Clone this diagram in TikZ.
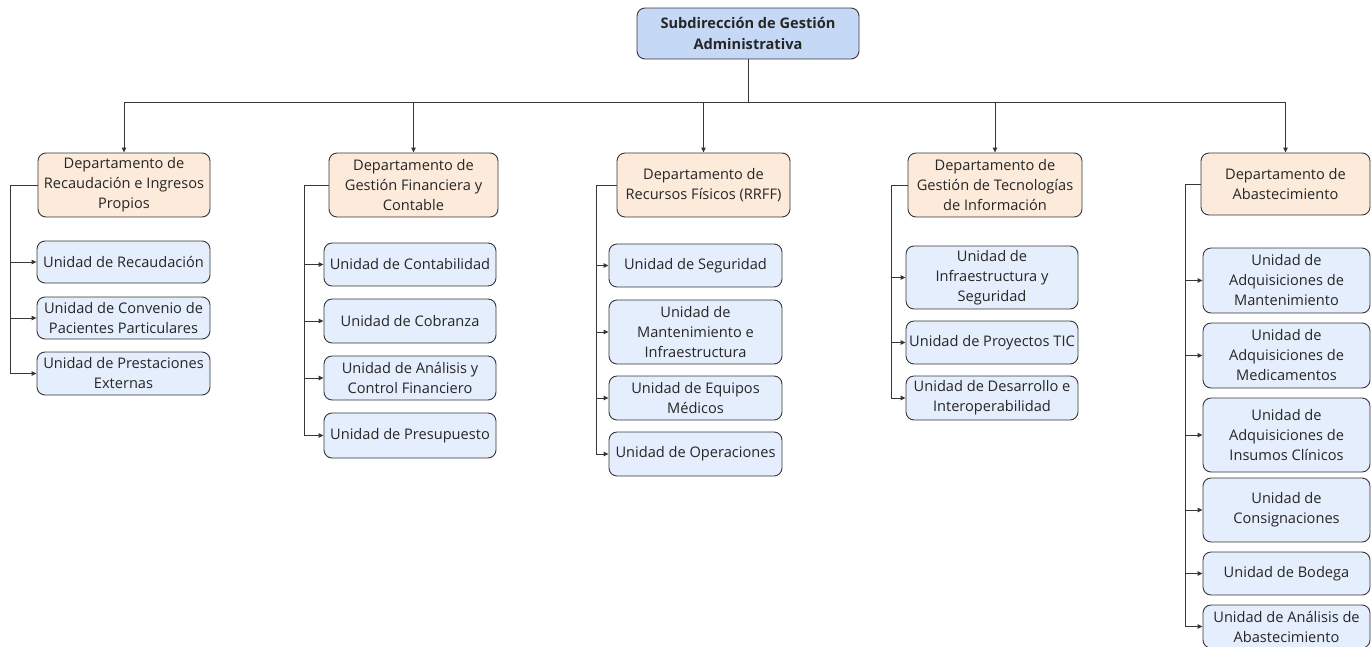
\documentclass[tikz,border=0pt]{standalone}
\usepackage{fontspec}
\setmainfont{Open Sans}
\usetikzlibrary{arrows.meta}
\definecolor{rootfill}{RGB}{197,217,247}
\definecolor{deptfill}{RGB}{252,234,218}
\definecolor{unitfill}{RGB}{229,238,252}
\definecolor{edgecol}{RGB}{55,55,55}
\newcommand\bx[7]{%
  \node[#6, minimum width={#4-#2}, minimum height={#5-#3}] (#1) at ({(#2+#4)/2},{(#3+#5)/2}) {#7};}
\tikzset{
  boxbase/.style={draw=edgecol, line width=0.9pt, rounded corners=8pt, inner sep=0pt, align=center,
    font=\fontsize{14.6}{20}\selectfont, text=black!85},
  rootbox/.style={boxbase, fill=rootfill, font=\fontsize{14.6}{20.5}\selectfont\bfseries},
  deptbox/.style={boxbase, fill=deptfill},
  unitbox/.style={boxbase, fill=unitfill},
  conn/.style={draw=edgecol, line width=0.95pt},
  arr/.style={conn, -{Triangle[length=5pt,width=4.5pt]}},
}
\begin{document}
\begin{tikzpicture}[x=1pt,y=-1pt]
\useasboundingbox (0,0) rectangle (1371,646);
\fill[white] (0,0) rectangle (1371,646);
% root
\bx{root}{637}{8}{859}{59}{rootbox}{Subdirección de Gestión\\Administrativa}
% departments
\bx{d1}{38}{153}{210}{217}{deptbox}{Departamento de\\Recaudación e Ingresos\\Propios}
\bx{d2}{329}{153}{498}{217}{deptbox}{Departamento de\\Gestión Financiera y\\Contable}
\bx{d3}{617}{153}{790}{217}{deptbox}{Departamento de\\Recursos Físicos (RRFF)}
\bx{d4}{908}{153}{1082}{217}{deptbox}{Departamento de\\Gestión de Tecnologías\\de Información}
\bx{d5}{1201}{153}{1370}{215}{deptbox}{Departamento de\\Abastecimiento}
% column 1 units
\bx{u11}{37}{241}{210}{283}{unitbox}{Unidad de Recaudación}
\bx{u12}{37}{297}{210}{339}{unitbox}{Unidad de Convenio de\\Pacientes Particulares}
\bx{u13}{37}{352}{210}{395}{unitbox}{Unidad de Prestaciones\\Externas}
% column 2 units
\bx{u21}{324}{243}{496}{286}{unitbox}{Unidad de Contabilidad}
\bx{u22}{324}{299}{496}{343}{unitbox}{Unidad de Cobranza}
\bx{u23}{324}{356}{496}{400}{unitbox}{Unidad de Análisis y\\Control Financiero}
\bx{u24}{324}{413}{496}{458}{unitbox}{Unidad de Presupuesto}
% column 3 units
\bx{u31}{609}{244}{782}{287}{unitbox}{Unidad de Seguridad}
\bx{u32}{609}{300}{782}{364}{unitbox}{Unidad de\\Mantenimiento e\\Infraestructura}
\bx{u33}{609}{376}{782}{420}{unitbox}{Unidad de Equipos\\Médicos}
\bx{u34}{609}{432}{782}{476}{unitbox}{Unidad de Operaciones}
% column 4 units
\bx{u41}{906}{246}{1078}{309}{unitbox}{Unidad de\\Infraestructura y\\Seguridad}
\bx{u42}{906}{321}{1078}{364}{unitbox}{Unidad de Proyectos TIC}
\bx{u43}{906}{376}{1078}{420}{unitbox}{Unidad de Desarrollo e\\Interoperabilidad}
% column 5 units
\bx{u51}{1203}{248}{1370}{313}{unitbox}{Unidad de\\Adquisiciones de\\Mantenimiento}
\bx{u52}{1203}{323}{1370}{388}{unitbox}{Unidad de\\Adquisiciones de\\Medicamentos}
\bx{u53}{1203}{398}{1370}{472}{unitbox}{Unidad de\\Adquisiciones de\\Insumos Clínicos}
\bx{u54}{1203}{478}{1370}{542}{unitbox}{Unidad de\\Consignaciones}
\bx{u55}{1203}{552}{1370}{595}{unitbox}{Unidad de Bodega}
\bx{u56}{1203}{605}{1370}{648}{unitbox}{Unidad de Análisis de\\Abastecimiento}
% bus
\coordinate (bus) at (748,102);
\coordinate (busL) at (d1.north |- bus);
\coordinate (busR) at (d5.north |- bus);
\draw[conn] (root.south) -- (bus);
\draw[conn] (busL) -- (busR);
\foreach \d in {d1,d2,d3,d4,d5}{\draw[arr] (\d.north |- bus) -- (\d.north);}
% brackets
\coordinate (b1) at (10,0);
\coordinate (b2) at (304,0);
\coordinate (b3) at (596,0);
\coordinate (b4) at (891,0);
\coordinate (b5) at (1185,0);
\draw[conn] (d1.west) -- (b1 |- d1.west) -- (b1 |- u13.west);
\draw[conn] (d2.west) -- (b2 |- d2.west) -- (b2 |- u24.west);
\draw[conn] (d3.west) -- (b3 |- d3.west) -- (b3 |- u34.west);
\draw[conn] (d4.west) -- (b4 |- d4.west) -- (b4 |- u43.west);
\draw[conn] (d5.west) -- (b5 |- d5.west) -- (b5 |- u56.west);
\foreach \u in {u11,u12,u13}{\draw[arr] (b1 |- \u.west) -- (\u.west);}
\foreach \u in {u21,u22,u23,u24}{\draw[arr] (b2 |- \u.west) -- (\u.west);}
\foreach \u in {u31,u32,u33,u34}{\draw[arr] (b3 |- \u.west) -- (\u.west);}
\foreach \u in {u41,u42,u43}{\draw[arr] (b4 |- \u.west) -- (\u.west);}
\foreach \u in {u51,u52,u53,u54,u55,u56}{\draw[arr] (b5 |- \u.west) -- (\u.west);}
\end{tikzpicture}
\end{document}
